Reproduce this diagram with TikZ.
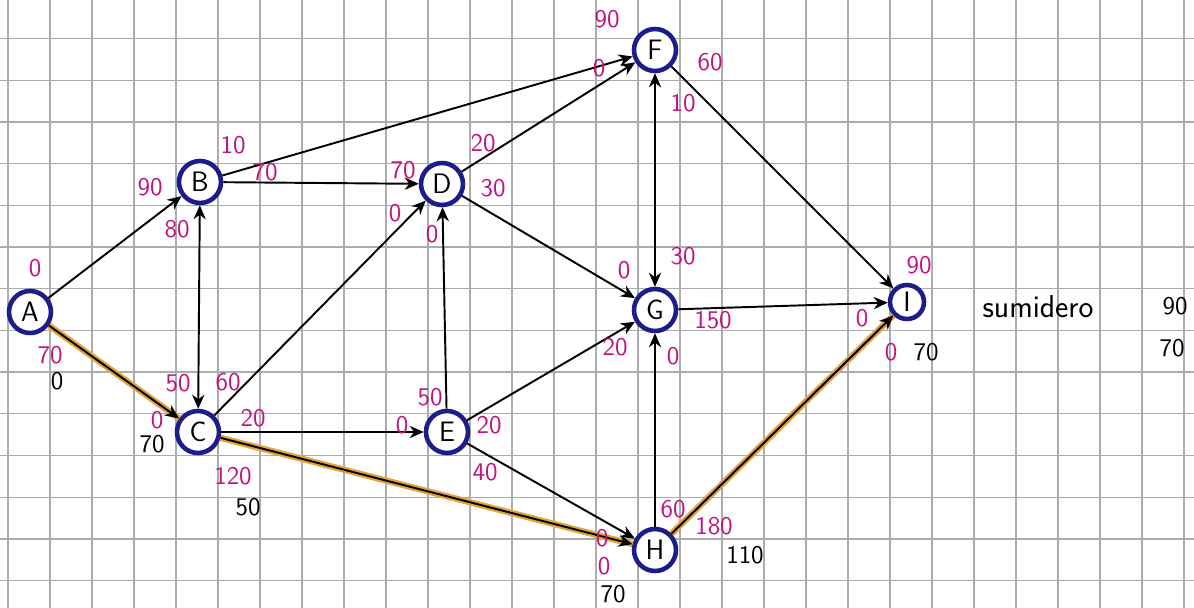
\documentclass[tikz,border=0pt]{standalone}
\usetikzlibrary{arrows.meta}

\definecolor{navy}{HTML}{1C1C8A}
\definecolor{flowpink}{HTML}{C4127C}
\definecolor{pathorange}{HTML}{E2A33A}
\newcommand{\handfont}{\fontsize{14.5}{16}\selectfont\sffamily}

\begin{document}
\begin{tikzpicture}[x=0.02cm, y=-0.02cm,
    vertex/.style={circle, draw=navy, line width=2.6pt, fill=white,
      minimum size=0.84cm, inner sep=0pt, font=\fontsize{16}{18}\selectfont\sffamily},
    arc/.style={-{Stealth[length=8pt, width=7pt]}, line width=1.1pt},
    hot/.style={pathorange, line width=3.6pt},
    flw/.style={text=flowpink, font=\handfont, inner sep=0.5pt},
    tot/.style={text=black, font=\handfont, inner sep=0.5pt},
    gridline/.style={gray!65, line width=0.7pt}]
  \useasboundingbox (0,0) rectangle (1194,608);

  % Graph paper
  \foreach \i in {0,...,28}
    \draw [gridline] ({8+42*\i}, 0) -- ({8+42*\i}, 608);
  \foreach \j in {0,...,14}
    \draw [gridline] (0, {-3.2+41.7*\j}) -- (1194, {-3.2+41.7*\j});

  % Vertices
  \node [vertex] (A) at (30, 312) {A};
  \node [vertex] (B) at (200, 182) {B};
  \node [vertex] (C) at (198, 432) {C};
  \node [vertex] (D) at (442, 184) {D};
  \node [vertex] (E) at (447, 432) {E};
  \node [vertex] (F) at (655, 50) {F};
  \node [vertex] (G) at (655, 310) {G};
  \node [vertex] (H) at (655, 550) {H};
  \node [vertex, minimum size=0.68cm] (I) at (907, 302) {I};

  % Highlighted path A-C-H-I
  \draw [hot] (A) -- (C);
  \draw [hot] (C) -- (H);
  \draw [hot] (H) -- (I);

  % Arcs
  \draw [arc] (A) -- (B);
  \draw [arc] (A) -- (C);
  \draw [arc, {Stealth[length=8pt, width=7pt]}-{Stealth[length=8pt, width=7pt]}] (B) -- (C);
  \draw [arc] (B) -- (D);
  \draw [arc] (B) -- (F);
  \draw [arc] (C) -- (D);
  \draw [arc] (C) -- (E);
  \draw [arc] (C) -- (H);
  \draw [arc] (E) -- (D);
  \draw [arc] (D) -- (F);
  \draw [arc] (D) -- (G);
  \draw [arc] (E) -- (G);
  \draw [arc] (E) -- (H);
  \draw [arc, {Stealth[length=8pt, width=7pt]}-{Stealth[length=8pt, width=7pt]}] (F) -- (G);
  \draw [arc] (F) -- (I);
  \draw [arc] (G) -- (I);
  \draw [arc] (H) -- (G);
  \draw [arc] (H) -- (I);

  % Flow numbers
  \node [flw] (fab-a) at (35, 268) {0};
  \node [flw] (fac-a) at (50, 355) {70};
  \node [flw] (fab-b) at (150, 187) {90};
  \node [flw] (fbf-b) at (233, 145) {10};
  \node [flw] (fbd-b) at (265, 172) {70};
  \node [flw] (fbc-b) at (177, 229) {80};
  \node [flw] (fbc-c) at (178, 383) {50};
  \node [flw] (fcd-c) at (228, 382) {60};
  \node [flw] (fac-c) at (157, 420) {0};
  \node [flw] (fce-c) at (253, 418) {20};
  \node [flw] (fch-c) at (233, 476) {120};
  \node [flw] (fbd-d) at (403, 170) {70};
  \node [flw] (fcd-d) at (395, 213) {0};
  \node [flw] (fed-d) at (432, 234) {0};
  \node [flw] (fdf-d) at (483, 143) {20};
  \node [flw] (fdg-d) at (493, 188) {30};
  \node [flw] (fed-e) at (430, 397) {50};
  \node [flw] (fce-e) at (402, 425) {0};
  \node [flw] (feg-e) at (489, 425) {20};
  \node [flw] (feh-e) at (485, 472) {40};
  \node [flw] (fbf-f) at (607, 19) {90};
  \node [flw] (fdf-f) at (599, 68) {0};
  \node [flw] (ffi-f) at (710, 62) {60};
  \node [flw] (ffg-f) at (683, 103) {10};
  \node [flw] (fdg-g) at (624, 270) {0};
  \node [flw] (ffg-g) at (683, 256) {30};
  \node [flw] (fgi-g) at (713, 320) {150};
  \node [flw] (feg-g) at (615, 347) {20};
  \node [flw] (fhg-g) at (673, 356) {0};
  \node [flw] (fhg-h) at (673, 509) {60};
  \node [flw] (fhi-h) at (714, 526) {180};
  \node [flw] (feh-h) at (602, 538) {0};
  \node [flw] (fch-h) at (604, 566) {0};
  \node [flw] (ffi-i) at (919, 265) {90};
  \node [flw] (fgi-i) at (862, 318) {0};
  \node [flw] (fhi-i) at (891, 352) {0};

  % Path totals
  \node [tot] (tA) at (57, 381) {0};
  \node [tot] (tC) at (152, 444) {70};
  \node [tot] (tC2) at (248, 507) {50};
  \node [tot] (tH) at (613, 594) {70};
  \node [tot] (tH2) at (745, 555) {110};
  \node [tot] (tI) at (926, 352) {70};
  \node [tot, font=\fontsize{18}{20}\selectfont\sffamily] (sink) at (1038, 307) {sumidero};
  \node [tot] (sink-a) at (1175, 306) {90};
  \node [tot] (sink-b) at (1172, 348) {70};

\end{tikzpicture}
\end{document}
